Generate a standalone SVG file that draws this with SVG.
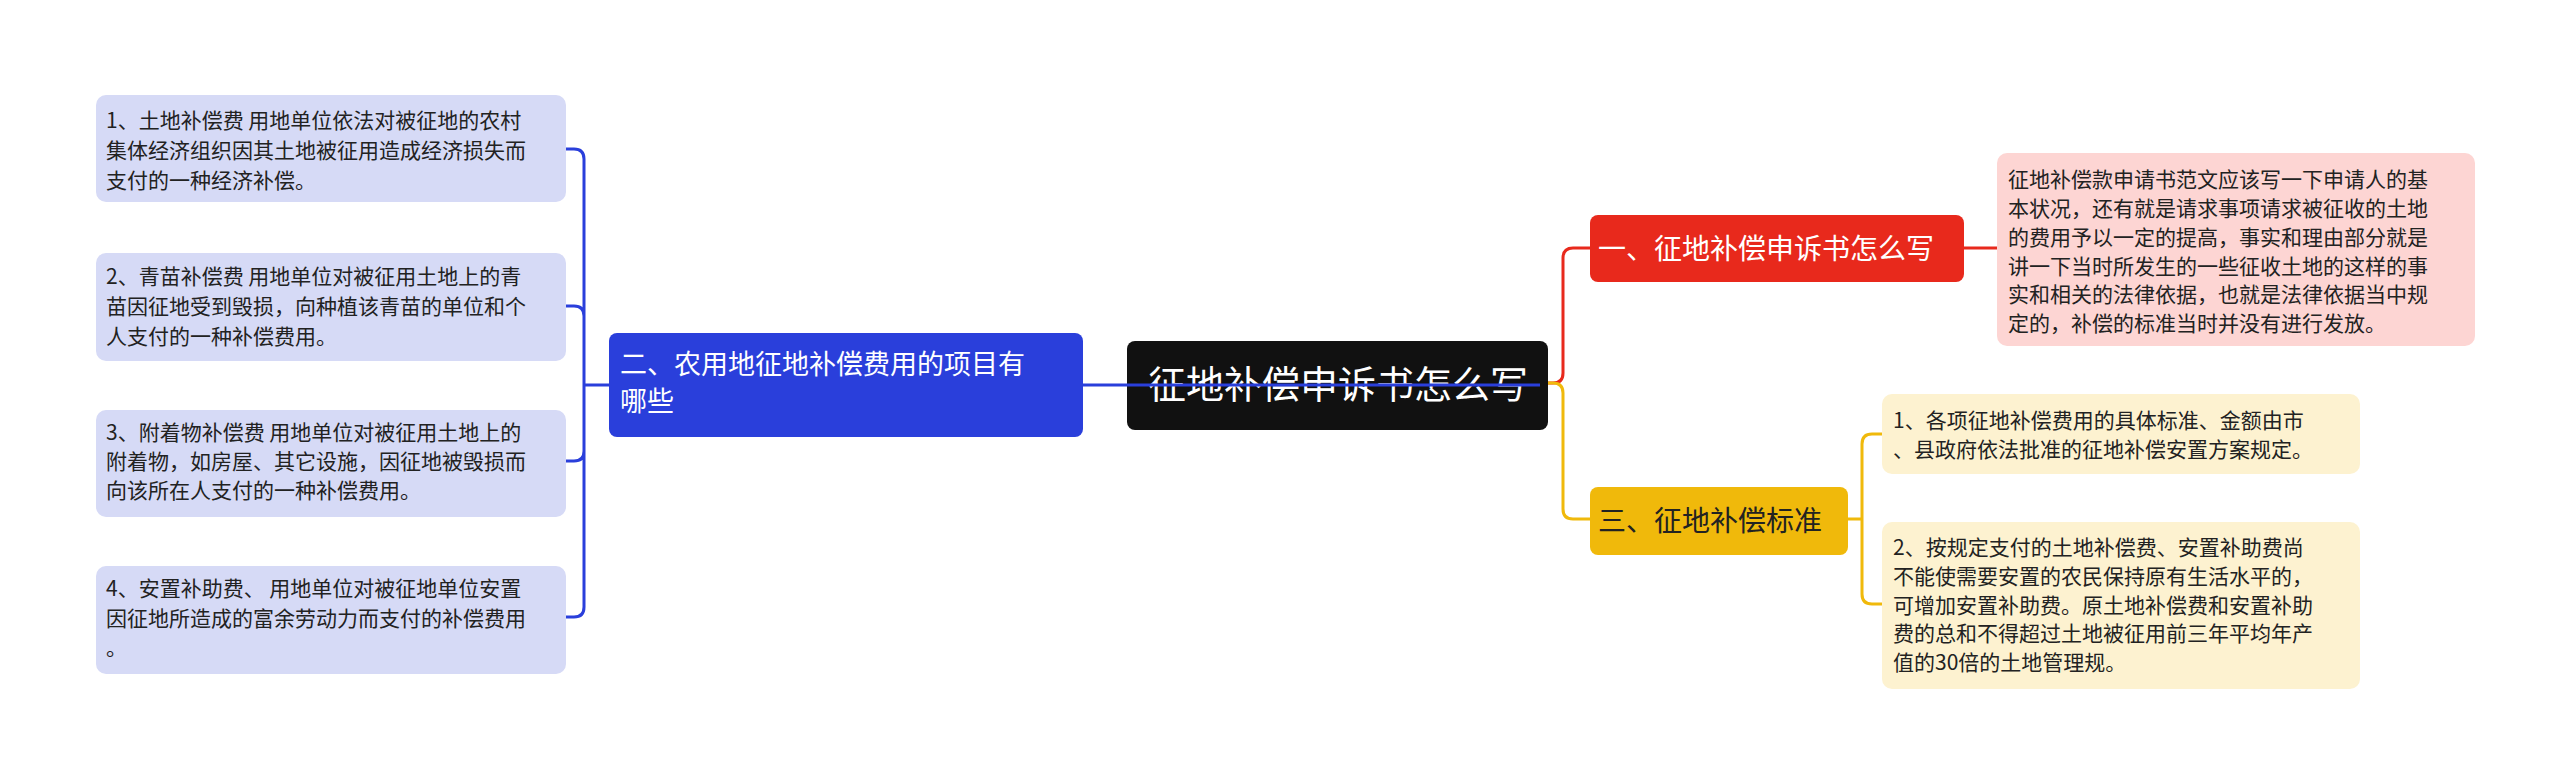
<svg xmlns="http://www.w3.org/2000/svg" width="2560" height="782" viewBox="0 0 2560 782">
<style>
text{font-family:"Noto Sans CJK SC","Noto Sans",sans-serif}
.lf{font-size:21px}
.bl{fill:#d6daf6}
.bt{fill:#222}
.ln{fill:none;stroke-width:3}
</style>
<rect width="2560" height="782" fill="#fff"/>
<g id="n-b1"><rect class="bl" x="96" y="95" width="470" height="107" rx="10"/><text class="lf bt" x="106"><tspan x="106" y="128">1、土地补偿费 用地单位依法对被征地的农村</tspan><tspan x="106" y="158">集体经济组织因其土地被征用造成经济损失而</tspan><tspan x="106" y="188">支付的一种经济补偿。</tspan></text></g>
<g id="n-b2"><rect class="bl" x="96" y="253" width="470" height="108" rx="10"/><text class="lf bt"><tspan x="106" y="284">2、青苗补偿费 用地单位对被征用土地上的青</tspan><tspan x="106" y="314">苗因征地受到毁损，向种植该青苗的单位和个</tspan><tspan x="106" y="344">人支付的一种补偿费用。</tspan></text></g>
<g id="n-b3"><rect class="bl" x="96" y="410" width="470" height="107" rx="10"/><text class="lf bt"><tspan x="106" y="440">3、附着物补偿费 用地单位对被征用土地上的</tspan><tspan x="106" y="469">附着物，如房屋、其它设施，因征地被毁损而</tspan><tspan x="106" y="498">向该所在人支付的一种补偿费用。</tspan></text></g>
<g id="n-b4"><rect class="bl" x="96" y="566" width="470" height="108" rx="10"/><text class="lf bt"><tspan x="106" y="596">4、安置补助费、 用地单位对被征地单位安置</tspan><tspan x="106" y="626">因征地所造成的富余劳动力而支付的补偿费用</tspan><tspan x="106" y="655">。</tspan></text></g>
<g id="n-blue"><rect x="609" y="333" width="474" height="104" rx="8" fill="#2a3fdb"/><text font-size="27" fill="#fff"><tspan x="620" y="374">二、农用地征地补偿费用的项目有</tspan><tspan x="620" y="411">哪些</tspan></text></g>
<g id="n-center"><rect x="1127" y="341" width="421" height="89" rx="8" fill="#111"/><text x="1338" y="398" font-size="38" fill="#fff" text-anchor="middle">征地补偿申诉书怎么写</text></g>
<g id="n-red"><rect x="1590" y="215" width="374" height="67" rx="8" fill="#e8291c"/><text x="1598" y="259" font-size="28" fill="#fff">一、征地补偿申诉书怎么写</text></g>
<g id="n-redleaf"><rect x="1997" y="153" width="478" height="193" rx="10" fill="#fdd5d3"/><text class="lf bt"><tspan x="2008" y="187">征地补偿款申请书范文应该写一下申请人的基</tspan><tspan x="2008" y="216">本状况，还有就是请求事项请求被征收的土地</tspan><tspan x="2008" y="245">的费用予以一定的提高，事实和理由部分就是</tspan><tspan x="2008" y="274">讲一下当时所发生的一些征收土地的这样的事</tspan><tspan x="2008" y="302">实和相关的法律依据，也就是法律依据当中规</tspan><tspan x="2008" y="331">定的，补偿的标准当时并没有进行发放。</tspan></text></g>
<g id="n-yellow"><rect x="1590" y="487" width="258" height="68" rx="8" fill="#f0b90b"/><text x="1598" y="531" font-size="28" fill="#222">三、征地补偿标准</text></g>
<g id="n-y1"><rect x="1882" y="394" width="478" height="80" rx="10" fill="#fdf2d0"/><text class="lf bt"><tspan x="1893" y="428">1、各项征地补偿费用的具体标准、金额由市</tspan><tspan x="1893" y="457">、县政府依法批准的征地补偿安置方案规定。</tspan></text></g>
<g id="n-y2"><rect x="1882" y="522" width="478" height="167" rx="10" fill="#fdf2d0"/><text class="lf bt"><tspan x="1893" y="555">2、按规定支付的土地补偿费、安置补助费尚</tspan><tspan x="1893" y="584">不能使需要安置的农民保持原有生活水平的，</tspan><tspan x="1893" y="613">可增加安置补助费。原土地补偿费和安置补助</tspan><tspan x="1893" y="641">费的总和不得超过土地被征用前三年平均年产</tspan><tspan x="1893" y="670">值的30倍的土地管理规。</tspan></text></g>
<g id="connectors">
<path class="ln" stroke="#2a3fdb" d="M1083 385H1540M609 385H584M566 149h8q10 0 10 10V607q0 10-10 10h-8M566 306h8q10 0 10 10M566 461h8q10 0 10-10"/>
<path class="ln" stroke="#e8291c" d="M1548 383h5q10 0 10-10V258q0-10 10-10h17M1964 248h33"/>
<path class="ln" stroke="#f0b90b" d="M1548 383h5q10 0 10 10V509q0 10 10 10h17M1848 519h14M1872 434q-10 0-10 10V594q0 10 10 10h10M1872 434h10"/>
</g>
</svg>
